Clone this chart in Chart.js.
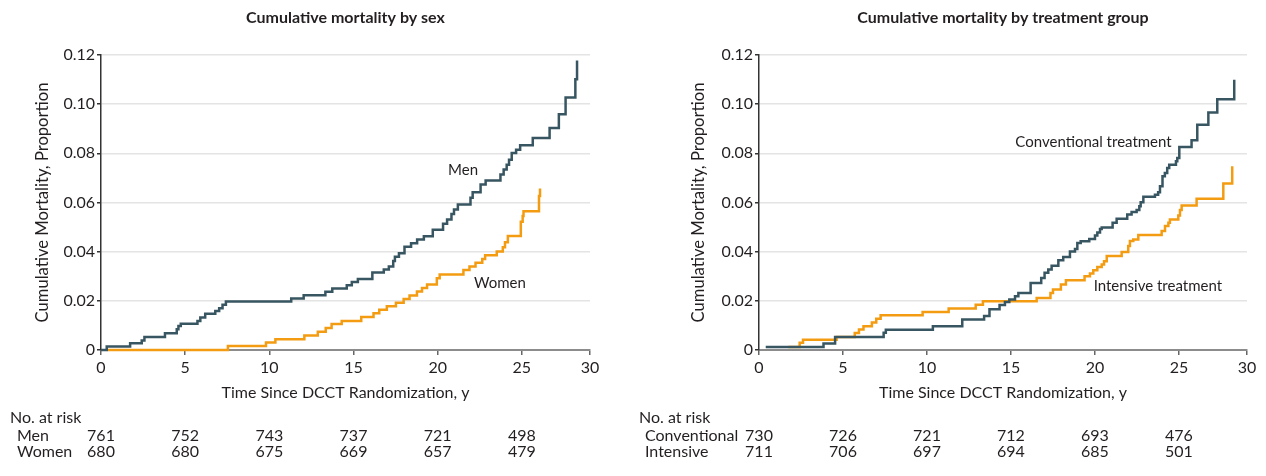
<!DOCTYPE html>
<html><head><meta charset="utf-8">
<script src="https://cdn.jsdelivr.net/npm/chart.js@4.4.1/dist/chart.umd.min.js"></script>
<style>
html,body{margin:0;padding:0;background:#fff;}
#wrap{position:relative;width:1266px;height:476px;overflow:hidden;background:#fff;}
canvas{position:absolute;top:0;}
</style></head><body>
<div id="wrap">
<canvas id="left" width="633" height="476" style="left:0;width:633px;height:476px"></canvas>
<canvas id="right" width="633" height="476" style="left:633px;width:633px;height:476px"></canvas>
</div>
<script>
// ---- data ----
const xTickValues = [0, 5, 10, 15, 20, 25, 29.05];
const xTickLabels = ['0', '5', '10', '15', '20', '25', '30'];
const yTickValues = [0, 0.02, 0.04, 0.06, 0.08, 0.10, 0.12];
const yTickLabels = ['0', '0.02', '0.04', '0.06', '0.08', '0.10', '0.12'];
const riskTimes = [0, 5, 10, 15, 20, 25];

const menT = [0, 0.34, 1.73, 2.42, 2.58, 3.8, 4.5, 4.6, 4.74, 5.73, 5.9, 6.19, 6.79, 7.02, 7.22, 7.42, 11.3, 12.04, 13.33, 13.74, 14.6, 14.9, 15.26, 16.12, 16.8, 17.1, 17.36, 17.46, 17.7, 18.03, 18.42, 18.78, 19.18, 19.71, 20.32, 20.56, 20.82, 20.97, 21.2, 21.95, 22.08, 22.55, 22.85, 23.73, 23.92, 24.1, 24.24, 24.4, 24.66, 24.9, 25.65, 26.65, 27.2, 27.6, 28.18, 28.28];
const menY = [0, 0.0014, 0.0027, 0.0039, 0.0053, 0.0068, 0.0084, 0.0098, 0.0107, 0.0118, 0.0132, 0.0147, 0.0159, 0.017, 0.0184, 0.0197, 0.021, 0.0223, 0.0237, 0.025, 0.0263, 0.0277, 0.0289, 0.0315, 0.0327, 0.034, 0.0362, 0.0379, 0.0394, 0.042, 0.0434, 0.0449, 0.0463, 0.0489, 0.0514, 0.0531, 0.0553, 0.0572, 0.0592, 0.0619, 0.0642, 0.0673, 0.0689, 0.0714, 0.0734, 0.0754, 0.0774, 0.0801, 0.0815, 0.0833, 0.0862, 0.0903, 0.0959, 0.1027, 0.1101, 0.1178];

const womenT = [0.4, 7.54, 9.8, 10.36, 12.08, 12.88, 13.35, 13.7, 14.3, 15.46, 16.19, 16.53, 16.98, 17.52, 17.98, 18.33, 18.77, 19.07, 19.37, 19.95, 20.12, 21.53, 21.89, 22.25, 22.65, 22.82, 23.51, 23.87, 24.0, 24.17, 24.94, 25.05, 25.1, 26.02, 26.08];
const womenY = [0, 0.0016, 0.0031, 0.0044, 0.0059, 0.0074, 0.009, 0.0106, 0.0118, 0.0134, 0.0149, 0.0164, 0.0178, 0.0192, 0.0207, 0.0222, 0.0238, 0.0252, 0.0266, 0.0292, 0.0307, 0.0325, 0.034, 0.0355, 0.037, 0.0385, 0.0401, 0.0418, 0.0438, 0.0464, 0.0522, 0.0545, 0.0564, 0.0626, 0.0657];

const convT = [0.4, 3.84, 4.53, 7.42, 7.55, 10.35, 12.1, 13.4, 13.72, 14.32, 14.64, 14.9, 15.24, 15.44, 16.17, 16.8, 17.0, 17.22, 17.42, 17.82, 18.11, 18.51, 18.81, 18.95, 19.15, 19.66, 20.0, 20.14, 20.3, 20.4, 21.05, 21.29, 21.92, 22.18, 22.48, 22.64, 22.72, 22.88, 23.57, 23.76, 23.87, 24.02, 24.16, 24.3, 24.42, 24.82, 24.9, 25.02, 25.75, 26.09, 26.75, 27.28, 28.29];
const convY = [0.0012, 0.0026, 0.0053, 0.007, 0.0082, 0.0097, 0.0124, 0.0138, 0.0166, 0.0183, 0.0195, 0.0205, 0.0219, 0.0232, 0.0273, 0.0293, 0.0314, 0.0327, 0.0343, 0.0365, 0.0378, 0.0401, 0.0411, 0.0435, 0.0442, 0.0452, 0.0466, 0.0478, 0.0492, 0.0498, 0.0518, 0.0534, 0.0551, 0.0561, 0.0569, 0.0585, 0.0601, 0.0623, 0.0632, 0.0642, 0.0666, 0.0707, 0.072, 0.074, 0.0754, 0.0768, 0.0781, 0.0826, 0.0853, 0.0916, 0.0966, 0.102, 0.1099];

const intT = [1.75, 2.42, 2.62, 4.62, 5.7, 5.95, 6.22, 6.72, 6.98, 7.24, 9.74, 11.29, 12.9, 13.33, 16.53, 17.35, 17.5, 17.97, 18.27, 19.38, 19.7, 19.9, 20.14, 20.4, 20.54, 20.7, 21.59, 21.98, 22.08, 22.28, 22.58, 23.97, 24.17, 24.37, 24.46, 24.96, 25.06, 25.16, 26.05, 27.64, 28.17];
const intY = [0.0012, 0.0029, 0.0042, 0.0053, 0.0069, 0.0083, 0.0097, 0.0112, 0.0127, 0.0141, 0.0155, 0.0169, 0.0184, 0.0198, 0.0212, 0.0232, 0.0246, 0.0266, 0.0284, 0.03, 0.0311, 0.0324, 0.0338, 0.0348, 0.0361, 0.0382, 0.0399, 0.0423, 0.0443, 0.045, 0.0468, 0.0484, 0.0504, 0.0518, 0.0531, 0.0547, 0.0569, 0.0588, 0.0615, 0.0677, 0.0747];

const riskMen = [761, 752, 743, 737, 721, 498];
const riskWomen = [680, 680, 675, 669, 657, 479];
const riskConv = [730, 726, 721, 712, 693, 476];
const riskInt = [711, 706, 697, 694, 685, 501];

// ---- style ----
const FONT = 'Lato, "Liberation Sans", Arial, sans-serif';
const DARK = '#385662';
const ORANGE = '#f39c12';
const TEXT = '#231f20';

const decor = {
  id: 'decor',
  afterDraw(chart, args, o) {
    const {ctx, chartArea} = chart;
    const xs = chart.scales.x, ys = chart.scales.y;
    ctx.save();
    ctx.fillStyle = TEXT;
    ctx.textBaseline = 'middle';
    ctx.textAlign = 'center';
    ctx.font = 'bold 16px ' + FONT;
    ctx.fillText(o.title, (chartArea.left + chartArea.right) / 2, 18);
    ctx.font = '15px ' + FONT;
    ctx.textAlign = 'left';
    o.labels.forEach(l => ctx.fillText(l.text, xs.getPixelForValue(l.x), ys.getPixelForValue(l.y)));
    ctx.font = '16px ' + FONT;
    ctx.fillText('No. at risk', o.riskLeft, 418);
    o.rows.forEach((r, i) => {
      const yy = 436 + i * 16;
      ctx.textAlign = 'left';
      ctx.fillText(r.name, o.rowLeft, yy);
      ctx.textAlign = 'center';
      riskTimes.forEach((t, j) => ctx.fillText(String(r.values[j]), xs.getPixelForValue(t), yy));
    });
    ctx.restore();
  }
};

function pts(t, v) { return t.map((x, i) => ({x: x, y: v[i]})); }

function makeChart(id, cfg) {
  return new Chart(document.getElementById(id), {
    type: 'line',
    data: {
      datasets: cfg.series.map(s => ({
        data: pts(s.t, s.v), borderColor: s.color, borderWidth: 2.5,
        stepped: 'before', pointRadius: 0, fill: false, clip: false, tension: 0
      }))
    },
    options: {
      responsive: false, animation: false,
      layout: {padding: {left: 0, right: cfg.padRight, top: 55, bottom: 0}},
      plugins: {
        legend: {display: false}, tooltip: {enabled: false},
        decor: cfg.decor
      },
      scales: {
        x: {
          type: 'linear', min: 0, max: xTickValues[xTickValues.length - 1],
          afterBuildTicks: s => { s.ticks = xTickValues.map(v => ({value: v})); },
          afterFit: s => { s.height = 126; },
          ticks: {callback: (v, i) => xTickLabels[i], font: {family: FONT, size: 16}, color: TEXT, padding: 3, maxRotation: 0, autoSkip: false},
          grid: {drawOnChartArea: false, drawTicks: true, tickLength: 5, tickColor: '#666', lineWidth: 1.5},
          border: {color: '#8c8c8c', width: 2},
          title: {display: true, text: 'Time Since DCCT Randomization, y', font: {family: FONT, size: 16}, color: TEXT, padding: {top: 0, bottom: 73.4}}
        },
        y: {
          type: 'linear', min: 0, max: 0.12,
          afterBuildTicks: s => { s.ticks = yTickValues.map(v => ({value: v})); },
          afterFit: s => { s.width = cfg.yWidth; },
          ticks: {callback: (v, i) => yTickLabels[i], font: {family: FONT, size: 16}, color: TEXT, padding: 2},
          grid: {color: '#e4e4e4', lineWidth: 1.5, drawTicks: true, tickLength: 4, tickColor: '#333'},
          border: {color: '#333', width: 1.5},
          title: {display: true, text: 'Cumulative Mortality, Proportion', font: {family: FONT, size: 16.6}, color: TEXT, padding: {top: cfg.yTitlePad, bottom: 0}}
        }
      }
    },
    plugins: [decor]
  });
}

makeChart('left', {
  padRight: 43, yWidth: 101, yTitlePad: 32.5,
  series: [{t: menT, v: menY, color: DARK}, {t: womenT, v: womenY, color: ORANGE}],
  decor: {
    title: 'Cumulative mortality by sex',
    labels: [{text: 'Men', x: 20.62, y: 0.0732}, {text: 'Women', x: 22.16, y: 0.0271}],
    riskLeft: 10, rowLeft: 17,
    rows: [{name: 'Men', values: riskMen}, {name: 'Women', values: riskWomen}]
  }
});

makeChart('right', {
  padRight: 19, yWidth: 126, yTitlePad: 56,
  series: [{t: convT, v: convY, color: DARK}, {t: intT, v: intY, color: ORANGE}],
  decor: {
    title: 'Cumulative mortality by treatment group',
    labels: [{text: 'Conventional treatment', x: 15.26, y: 0.0847}, {text: 'Intensive treatment', x: 19.92, y: 0.0258}],
    riskLeft: 6, rowLeft: 12,
    rows: [{name: 'Conventional', values: riskConv}, {name: 'Intensive', values: riskInt}]
  }
});
</script>
</body></html>
